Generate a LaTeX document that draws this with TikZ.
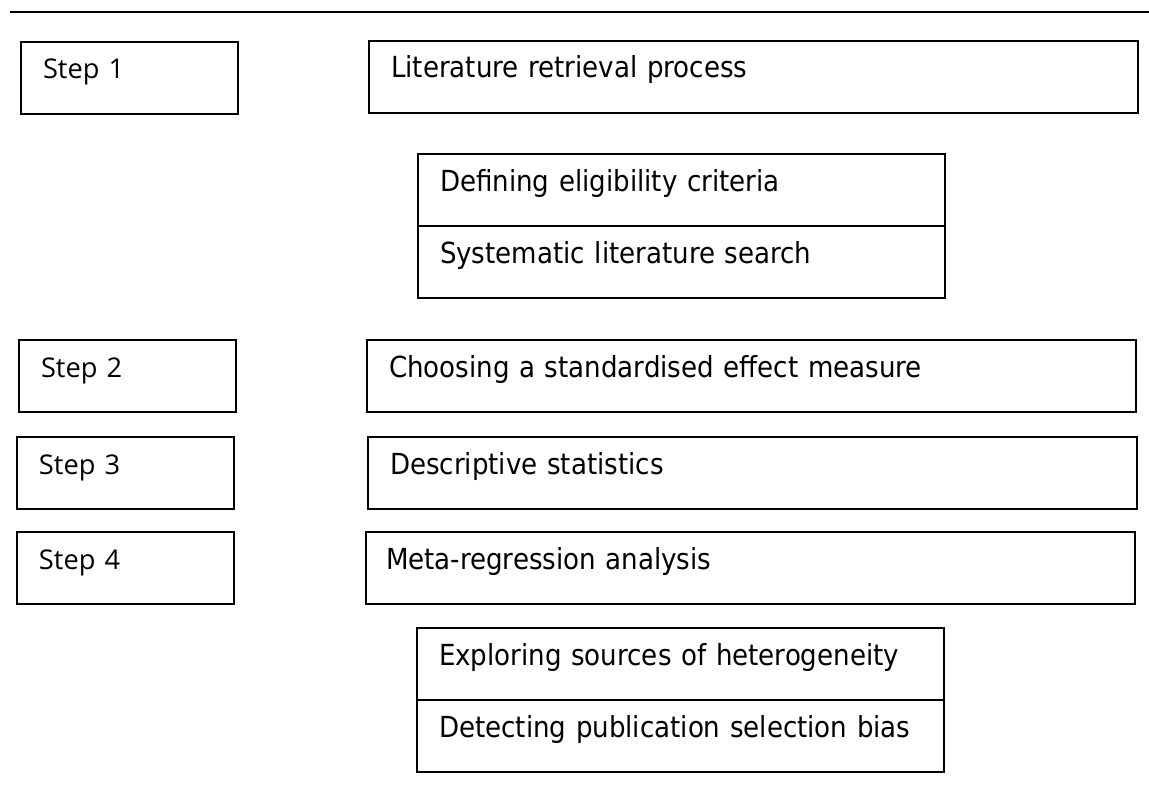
\documentclass[tikz,border=0pt]{standalone}
\usepackage{fontspec}
\usetikzlibrary{positioning}
\newfontfamily\stepfont{Open Sans}
\newfontfamily\taskfont{DejaVu Sans Condensed}

\tikzset{
  plainbox/.style={draw, line width=0.8pt, anchor=north west, outer sep=0pt,
    inner xsep=11pt, inner ysep=0pt, align=left, text height=18.5pt, text depth=17.5pt},
  steplabel/.style={plainbox, font=\stepfont\fontsize{13.6}{16}\selectfont, text width=86.5pt},
  task/.style={plainbox, font=\taskfont\fontsize{14.5}{17}\selectfont, text width=362.5pt},
  subtask/.style={plainbox, font=\taskfont\fontsize{14.5}{17}\selectfont, text width=241.5pt}
}

\begin{document}
\begin{tikzpicture}[x=0.5pt, y=-0.5pt]
	\useasboundingbox (0,0) rectangle (1149,792);
	
	\draw [line width=1.2pt] (10,12) -- (1149,12);
	
	\node [steplabel] (step1) at (21,42) {Step 1};
	\node [task] (retrieval) at (369,41) {Literature retrieval process};
	
	\node [subtask] (criteria) at (418,154) {Defining eligibility criteria};
	\node [subtask, below=0pt of criteria] (search) {Systematic literature search};
	
	\node [steplabel] (step2) at (19,340) {Step 2};
	\node [task] (measure) at (367,340) {Choosing a standardised effect measure};
	
	\node [steplabel] (step3) at (17,437) {Step 3};
	\node [task] (descriptive) at (368,437) {Descriptive statistics};
	
	\node [steplabel] (step4) at (17,532) {Step 4};
	\node [task, inner xsep=10pt, text width=364.5pt] (mra) at (366,532) {Meta-regression analysis};
	
	\node [subtask] (hetero) at (417,628) {Exploring sources of heterogeneity};
	\node [subtask, below=0pt of hetero] (bias) {Detecting publication selection bias};
\end{tikzpicture}
\end{document}
